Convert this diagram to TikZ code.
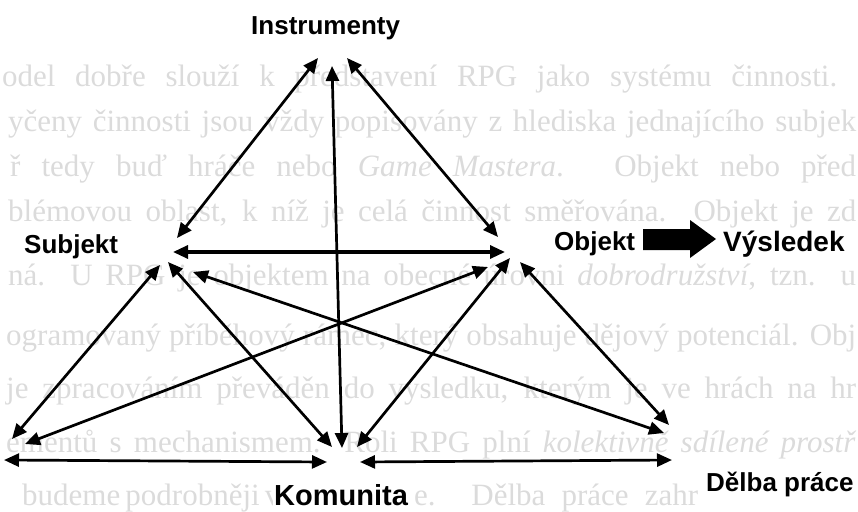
\documentclass[tikz,border=0pt]{standalone}
\usepackage{fontspec}
\setmainfont{Liberation Serif}
\setsansfont{Liberation Sans}
\usetikzlibrary{arrows.meta}
\tikzset{
  conn/.style={line width=2.7pt, {Triangle[length=15pt,width=13pt]}-{Triangle[length=15pt,width=13pt]}},
  lbl/.style={font=\sffamily\bfseries\fontsize{26}{28}\selectfont, inner sep=1pt, anchor=base west, fill=white},
  bgline/.style={font=\rmfamily\fontsize{31}{33}\selectfont, text=black!14, inner sep=0pt, anchor=base west},
}
\begin{document}
\begin{tikzpicture}[x=1pt,y=-1pt]
\useasboundingbox (0,0) rectangle (858,511);
% show-through text of the scanned page
\node[bgline] (t1) at (2,86)  {\makebox[835pt][s]{odel dobře slouží k představení RPG jako systému činnosti.}};
\node[bgline] (t2) at (8,131) {\makebox[848pt][s]{yčeny činnosti jsou vždy popisovány z hlediska jednajícího subjek}};
\node[bgline] (t3) at (10,176) {\makebox[846pt][s]{ř tedy buď hráče nebo \textit{Game Mastera}. Objekt nebo před}};
\node[bgline] (t4) at (8,221) {\makebox[848pt][s]{blémovou oblast, k níž je celá činnost směřována. Objekt je zd}};
\node[bgline] (t5) at (8,285) {\makebox[848pt][s]{ná. U RPG je objektem na obecné úrovni \textit{dobrodružství}, tzn. u}};
\node[bgline] (t6) at (6,345) {\makebox[850pt][s]{ogramovaný příběhový rámec, který obsahuje dějový potenciál. Obj}};
\node[bgline] (t7) at (6,398) {\makebox[850pt][s]{je zpracováním převáděn do výsledku, kterým je ve hrách na hr}};
\node[bgline] (t8) at (6,452) {\makebox[850pt][s]{ementů s mechanismem. Roli RPG plní \textit{kolektivně sdílené prostř}}};
\node[bgline] (t9a) at (22,505) {\makebox[246pt][s]{budeme podrobněji v}};
\node[bgline] (t9b) at (414,505) {\makebox[284pt][s]{e. Dělba práce zahr}};

% labels
\node[lbl] (ins) at (250,35) {Instrumenty};
\node[lbl] (sub) at (23,253) {Subjekt};
\node[lbl] (obj) at (553,250) {Objekt};
\node[lbl, font=\sffamily\bfseries\fontsize{28}{30}\selectfont] (vys) at (722,251) {Výsledek};
\node[lbl, font=\sffamily\bfseries\fontsize{29}{30}\selectfont] (kom) at (273,505) {Komunita};
\node[lbl] (del) at (705,491) {Dělba práce};

% arrow end points
\coordinate (IS1) at (318,58);  \coordinate (IS2) at (177,238);
\coordinate (IK1) at (332,66);  \coordinate (IK2) at (342,448);
\coordinate (IO1) at (347,58);  \coordinate (IO2) at (498,237);
\coordinate (SO1) at (173,252); \coordinate (SO2) at (505,252);
\coordinate (SR1) at (160,265); \coordinate (SR2) at (12,439);
\coordinate (SK1) at (168,262); \coordinate (SK2) at (332,447);
\coordinate (SD1) at (193,272); \coordinate (SD2) at (664,433);
\coordinate (OR1) at (488,267); \coordinate (OR2) at (25,444);
\coordinate (OK1) at (510,258); \coordinate (OK2) at (357,447);
\coordinate (OD1) at (520,262); \coordinate (OD2) at (669,425);
\coordinate (RK1) at (4,460);   \coordinate (RK2) at (327,462);
\coordinate (KD1) at (360,462); \coordinate (KD2) at (672,460);

\draw[conn] (IS1) -- (IS2);
\draw[conn] (IK1) -- (IK2);
\draw[conn] (IO1) -- (IO2);
\draw[conn, line width=3.2pt] (SO1) -- (SO2);
\draw[conn] (SR1) -- (SR2);
\draw[conn] (SK1) -- (SK2);
\draw[conn] (SD1) -- (SD2);
\draw[conn] (OR1) -- (OR2);
\draw[conn] (OK1) -- (OK2);
\draw[conn] (OD1) -- (OD2);
\draw[conn] (RK1) -- (RK2);
\draw[conn] (KD1) -- (KD2);

% block arrow Objekt -> Vysledek
\fill[black] (643,229) -- (690,229) -- (690,220) -- (716,239) -- (690,258) -- (690,250) -- (643,250) -- cycle;
\end{tikzpicture}
\end{document}
